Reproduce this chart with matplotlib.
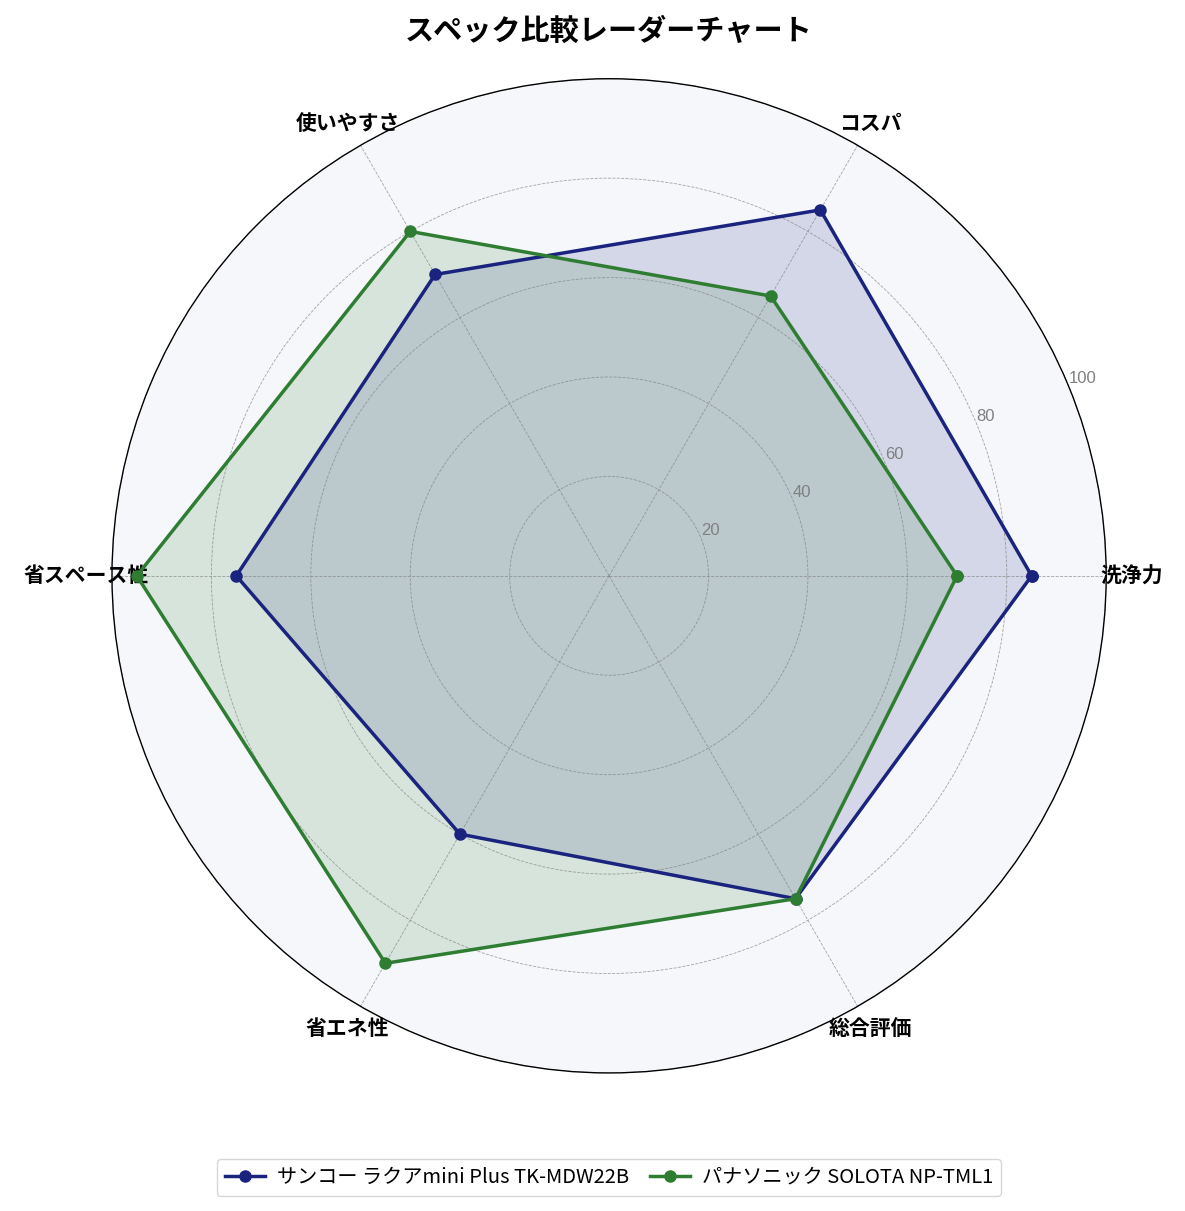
import numpy as np
import matplotlib.pyplot as plt

plt.rcParams['font.family'] = ['Noto Sans CJK JP', 'DejaVu Sans']

categories = ['洗浄力', 'コスパ', '使いやすさ', '省スペース性', '省エネ性', '総合評価']
sanko_values = [85, 85, 70, 75, 60, 75]
pana_values = [70, 65, 80, 95, 90, 75]
series_names = ['サンコー ラクアmini Plus TK-MDW22B', 'パナソニック SOLOTA NP-TML1']
series_colors = ['#1a237e', '#2e7d32']
r_ticks = [20, 40, 60, 80, 100]

angles = np.linspace(0, 2 * np.pi, len(categories), endpoint=False)
closed_angles = np.concatenate([angles, angles[:1]])

fig = plt.figure(figsize=(11.85, 12.11), dpi=100)
ax = fig.add_axes([0.0945, 0.114, 0.839, 0.821], projection='polar')
ax.set_facecolor('#f5f7fa')

for vals, name, color in zip([sanko_values, pana_values], series_names, series_colors):
    v = np.concatenate([vals, vals[:1]])
    ax.plot(closed_angles, v, color=color, linewidth=2.5, marker='o', markersize=8, label=name)
    ax.fill(closed_angles, v, color=color, alpha=0.15)

ax.set_ylim(0, 100)
ax.set_yticks(r_ticks)
ax.set_yticklabels([str(t) for t in r_ticks], color='gray', fontsize=12,
                   family=['Liberation Sans', 'DejaVu Sans'])
ax.set_rlabel_position(22.5)
ax.set_xticks(angles)
ax.set_xticklabels(categories, fontsize=15, fontweight='bold')
ax.tick_params(axis='x', pad=8)
ax.grid(True, linestyle='--', color='gray', linewidth=0.6, alpha=0.7)
ax.spines['polar'].set_color('black')
ax.spines['polar'].set_linewidth(1.0)

fig.suptitle('スペック比較レーダーチャート', fontsize=21, fontweight='bold', x=0.514, y=0.987)
fig.legend(loc='center', bbox_to_anchor=(0.514, 0.028), ncol=2, fontsize=14.5, frameon=True,
           columnspacing=1.0, handletextpad=0.6)

fig.savefig('out.png', dpi=100)
